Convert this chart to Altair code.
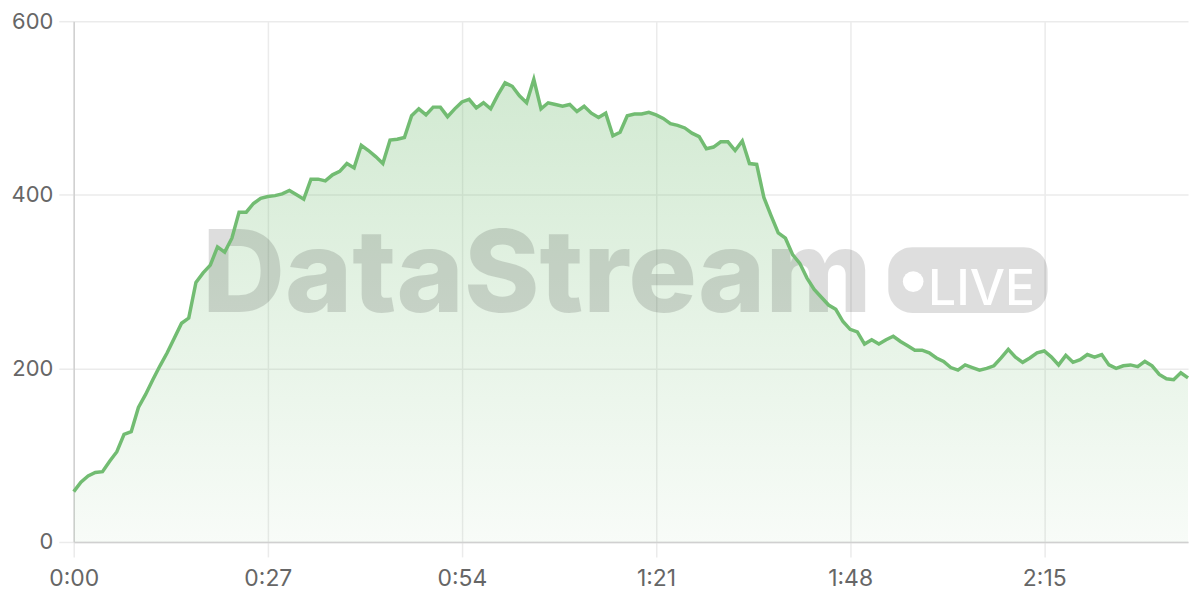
import altair as alt
import pandas as pd

seconds = list(range(156))
viewers = [
    58, 69, 76, 80, 81, 93, 104, 124, 127, 155,
    170, 187, 203, 218, 235, 252, 258, 299, 310, 319,
    340, 334, 350, 380, 380, 390, 396, 398, 399, 401,
    405, 400, 395, 418, 418, 416, 423, 427, 436, 431,
    457, 451, 444, 436, 463, 464, 466, 491, 499, 492,
    501, 501, 490, 499, 507, 510, 500, 506, 499, 515,
    529, 525, 514, 506, 533, 499, 506, 504, 502, 504,
    496, 502, 494, 489, 494, 468, 472, 491, 493, 493,
    495, 492, 488, 482, 480, 477, 471, 467, 453, 455,
    461, 461, 451, 462, 436, 435, 397, 376, 356, 350,
    331, 321, 304, 291, 282, 273, 268, 254, 245, 242,
    228, 233, 228, 233, 237, 231, 226, 221, 221, 218,
    212, 208, 201, 198, 204, 201, 198, 200, 203, 212,
    222, 213, 207, 212, 218, 220, 213, 204, 215, 207,
    210, 216, 213, 216, 204, 200, 203, 204, 202, 208,
    203, 193, 188, 187, 195, 189,
]
x_ticks = [0, 27, 54, 81, 108, 135]
y_ticks = [0, 200, 400, 600]
brand = ["DataStream"]
badge = ["LIVE"]

df = pd.DataFrame({"sec": seconds, "value": viewers})

GREEN = "#72bc72"
FONT = "Inter"

x_enc = alt.X(
    "sec:Q",
    scale=alt.Scale(domain=[0, 155], nice=False, zero=False),
    axis=alt.Axis(
        values=x_ticks,
        title=None,
        labelExpr="floor(datum.value / 60) + ':' + (datum.value % 60 < 10 ? '0' : '') + (datum.value % 60)",
        labelPadding=11,
        labelFontSize=23,
        labelFlush=False,
    ),
)
y_enc = alt.Y(
    "value:Q",
    scale=alt.Scale(domain=[0, 600], nice=False),
    axis=alt.Axis(values=y_ticks, title=None, labelPadding=6, labelFontSize=22, labelFlush=False),
)

base = alt.Chart(df).encode(x=x_enc, y=y_enc)

area = base.mark_area(
    color=alt.Gradient(
        gradient="linear",
        stops=[
            alt.GradientStop(color="rgba(114,188,114,0.32)", offset=0),
            alt.GradientStop(color="rgba(114,188,114,0.05)", offset=1),
        ],
        x1=1, x2=1, y1=0, y2=1,
    )
)

line = base.mark_line(color=GREEN, strokeWidth=3.5, strokeJoin="miter")

wm_text = alt.Chart(pd.DataFrame({"t": brand})).mark_text(
    font=FONT, fontWeight=800, fontSize=115, align="left", baseline="alphabetic",
    color="#000000", opacity=0.13,
).encode(text="t:N", x=alt.value(129), y=alt.value(292))

wm_badge = alt.Chart(pd.DataFrame({"t": badge})).mark_rect(
    color="#000000", opacity=0.13, cornerRadius=24,
).encode(x=alt.value(818), x2=alt.value(978), y=alt.value(227), y2=alt.value(293))

wm_dot = alt.Chart(pd.DataFrame({"t": badge})).mark_point(
    shape="circle", filled=True, color="#ffffff", opacity=1, size=430,
).encode(x=alt.value(843), y=alt.value(261.5))

wm_live = alt.Chart(pd.DataFrame({"t": badge})).mark_text(
    font=FONT, fontWeight=500, fontSize=50, align="left", baseline="alphabetic",
    color="#ffffff",
).encode(text="t:N", x=alt.value(858), y=alt.value(285))

chart = alt.layer(area, wm_text, wm_badge, wm_dot, wm_live, line).properties(
    width=1119,
    height=523,
    autosize=alt.AutoSizeParams(type="none"),
    padding={"left": 66, "top": 12, "right": 4, "bottom": 53},
).configure_view(stroke=None).configure_axis(
    labelFont=FONT,
    labelColor="#666666",
    gridColor="#ebebeb",
    gridWidth=1.5,
    tickColor="#ebebeb",
    tickWidth=1.5,
    tickSize=15,
    domainColor="#d0d0d0",
    domainWidth=1.5,
)

chart.save("out.html", embed_options={"renderer": "svg", "actions": False})
